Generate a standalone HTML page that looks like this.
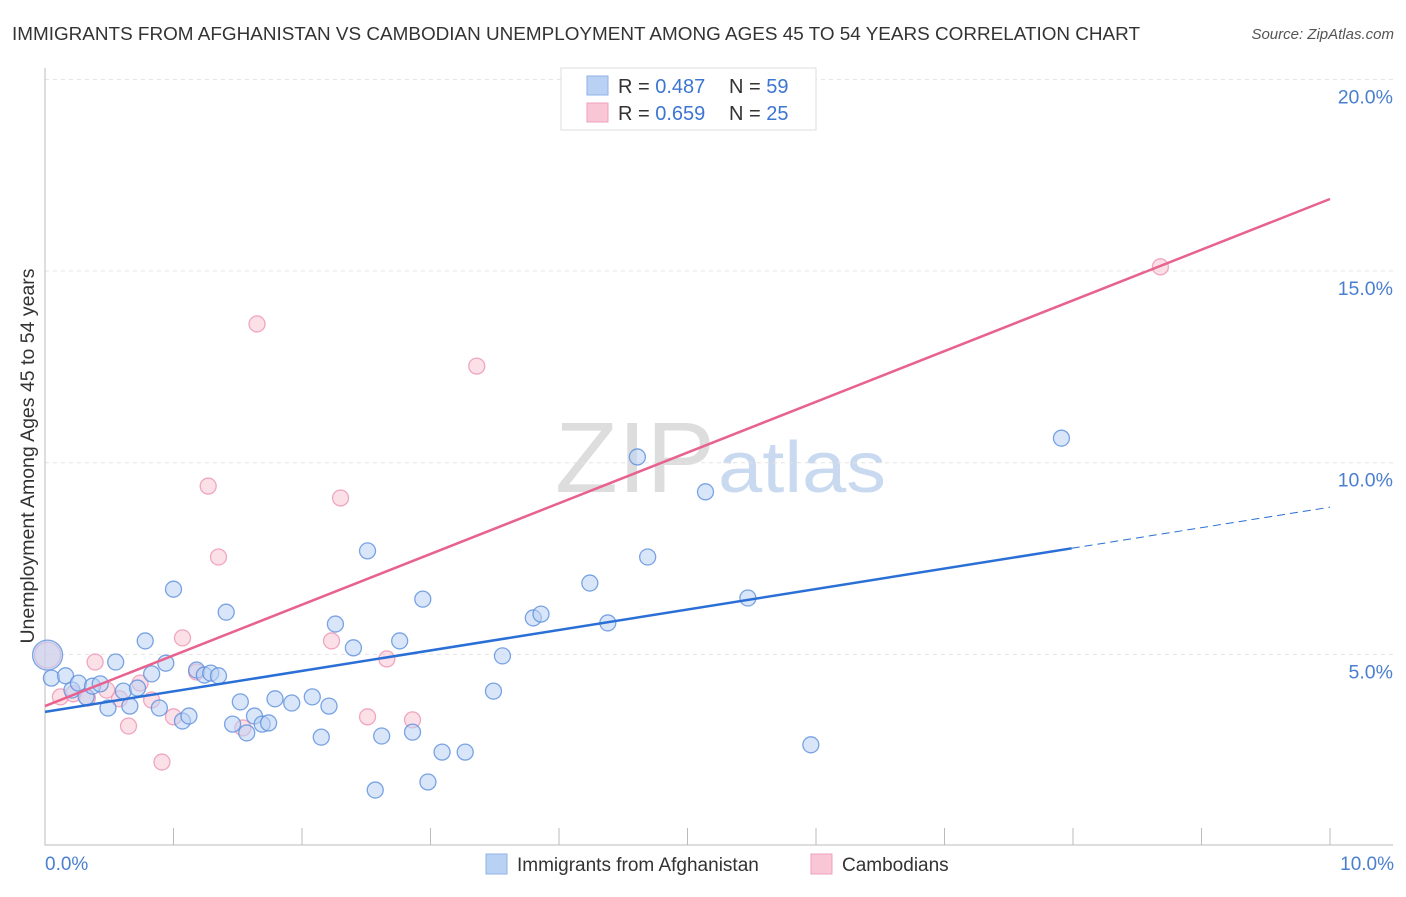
<!DOCTYPE html>
<html><head><meta charset="utf-8"><style>
body{margin:0;background:#fff;font-family:"Liberation Sans",sans-serif}
svg text{font-family:"Liberation Sans",sans-serif}
</style></head><body>
<svg id="c" width="1406" height="892" xmlns="http://www.w3.org/2000/svg">
<text x="12" y="40" font-size="18" fill="#333" textLength="1128" lengthAdjust="spacingAndGlyphs">IMMIGRANTS FROM AFGHANISTAN VS CAMBODIAN UNEMPLOYMENT AMONG AGES 45 TO 54 YEARS CORRELATION CHART</text>
<text x="1394" y="39" font-size="15" fill="#555" font-style="italic" text-anchor="end">Source: ZipAtlas.com</text>
<g>
<text x="555" y="492" font-size="100" font-family="Liberation Serif,serif" fill="#ddd" textLength="160" lengthAdjust="spacingAndGlyphs">ZIP</text>
<text x="718" y="492" font-size="72" fill="#c8d9f0" textLength="168" lengthAdjust="spacingAndGlyphs">atlas</text>
</g>
<g id="grid"></g>
<g id="axes"></g>
<g id="marks"></g>
<text x="34" y="456" font-size="19.5" fill="#333" transform="rotate(-90 34 456)" text-anchor="middle">Unemployment Among Ages 45 to 54 years</text>
<text x="45" y="870" font-size="19" fill="#4a7fd0">0.0%</text>
<text x="1394" y="870" font-size="19" fill="#4a7fd0" text-anchor="end">10.0%</text>
<g>
<rect x="561" y="68" width="255" height="62" fill="#fff" stroke="#ddd"/>
<rect x="587" y="76" width="21" height="19" fill="#b9d2f4" stroke="#8fb2e6"/>
<rect x="587" y="103" width="21" height="19" fill="#f9c6d6" stroke="#f0a0bb"/>
<text x="618" y="93" font-size="20" fill="#333">R = <tspan fill="#3d76d1">0.487</tspan></text>
<text x="729" y="93" font-size="20" fill="#333">N = <tspan fill="#3d76d1">59</tspan></text>
<text x="618" y="120" font-size="20" fill="#333">R = <tspan fill="#3d76d1">0.659</tspan></text>
<text x="729" y="120" font-size="20" fill="#333">N = <tspan fill="#3d76d1">25</tspan></text>
</g>
<g>
<rect x="486" y="854" width="21" height="20" fill="#b9d2f4" stroke="#8fb2e6"/>
<text x="517" y="871" font-size="19" fill="#333">Immigrants from Afghanistan</text>
<rect x="811" y="854" width="21" height="20" fill="#f9c6d6" stroke="#f0a0bb"/>
<text x="842" y="871" font-size="19" fill="#333">Cambodians</text>
</g>
</svg>
<script>
const yTicks=[5,10,15,20];
const xTickCount=10;
const blueX=[0.02,0.05,0.16,0.21,0.26,0.32,0.37,0.43,0.49,0.55,0.61,0.66,0.72,0.78,0.83,0.89,0.94,1.00,1.07,1.12,1.18,1.24,1.29,1.35,1.41,1.46,1.52,1.57,1.63,1.69,1.74,1.79,1.92,2.08,2.15,2.21,2.26,2.40,2.51,2.57,2.62,2.76,2.86,2.94,2.98,3.09,3.27,3.49,3.56,3.80,3.86,4.24,4.38,4.61,4.69,5.14,5.47,5.96,7.91];
const blueY=[4.98,4.38,4.44,4.07,4.25,3.89,4.17,4.23,3.60,4.80,4.04,3.65,4.12,5.35,4.49,3.60,4.77,6.70,3.26,3.39,4.59,4.46,4.51,4.44,6.10,3.18,3.76,2.95,3.39,3.18,3.21,3.84,3.73,3.89,2.84,3.65,5.79,5.17,7.70,1.46,2.87,5.35,2.97,6.44,1.67,2.45,2.45,4.04,4.96,5.95,6.05,6.86,5.82,10.15,7.54,9.24,6.47,2.64,10.64];
const pinkX=[0.02,0.12,0.22,0.33,0.39,0.48,0.58,0.65,0.74,0.83,0.91,1.00,1.07,1.18,1.27,1.35,1.54,1.65,2.23,2.30,2.51,2.66,2.86,3.36,8.68];
const pinkY=[4.98,3.89,3.97,3.86,4.80,4.07,3.84,3.13,4.25,3.81,2.19,3.37,5.43,4.54,9.39,7.54,3.08,13.62,5.35,9.08,3.37,4.88,3.29,12.52,15.11];
const blueLine=[3.50,8.84], blueSolidEnd=7.99;
const pinkLine=[3.65,16.88];
const X=v=>45+v*128.5, Y=v=>846-v*38.33;
const NS='http://www.w3.org/2000/svg';
function mk(t,a,p){const e=document.createElementNS(NS,t);for(const k in a)e.setAttribute(k,a[k]);p.appendChild(e);return e;}
const grid=document.getElementById('grid'),axes=document.getElementById('axes'),marks=document.getElementById('marks');
yTicks.forEach(t=>{
 const l=mk('line',{x1:45,x2:1393,y1:Y(t),y2:Y(t),stroke:'#e4e4e4','stroke-dasharray':'4,4'},grid);
 
 
 const tx=mk('text',{x:1393,y:Y(t)+24,'font-size':19.5,fill:'#4a7fd0','text-anchor':'end'},grid);
 tx.textContent=t.toFixed(1)+'%';
 
 
});
const ax=mk('path',{d:'M45,68V845H1393',stroke:'#bbb',fill:'none'},axes);


for(let i=0;i<=xTickCount;i++){
 const t=mk('line',{x1:X(i),x2:X(i),y1:828,y2:845,stroke:'#bbb'},axes);
 
 
}
function dots(xs,ys,fill,stroke,name,big){
 xs.forEach((x,i)=>{
  const c=mk('circle',{cx:X(x),cy:Y(ys[i]),r:i===0?big:8,fill:fill,'fill-opacity':0.55,stroke:stroke,'stroke-width':1.3,'stroke-opacity':0.8},marks);
  
  
 });
}
dots(pinkX,pinkY,'#f9c6d6','#ec94b2','cambodian-point',13);
dots(blueX,blueY,'#b9d2f4','#5b8fdc','afghanistan-point',15);
const by=x=>blueLine[0]+(blueLine[1]-blueLine[0])*x/10;
let l=mk('line',{x1:X(0),y1:Y(by(0)),x2:X(blueSolidEnd),y2:Y(by(blueSolidEnd)),stroke:'#2a6fd6','stroke-width':2.5},marks);


l=mk('line',{x1:X(blueSolidEnd),y1:Y(by(blueSolidEnd)),x2:X(10),y2:Y(by(10)),stroke:'#2a6fd6','stroke-width':1,'stroke-dasharray':'8,5'},marks);


l=mk('line',{x1:X(0),y1:Y(pinkLine[0]),x2:X(10),y2:Y(pinkLine[1]),stroke:'#e8628f','stroke-width':2.5},marks);


</script>
</body></html>
